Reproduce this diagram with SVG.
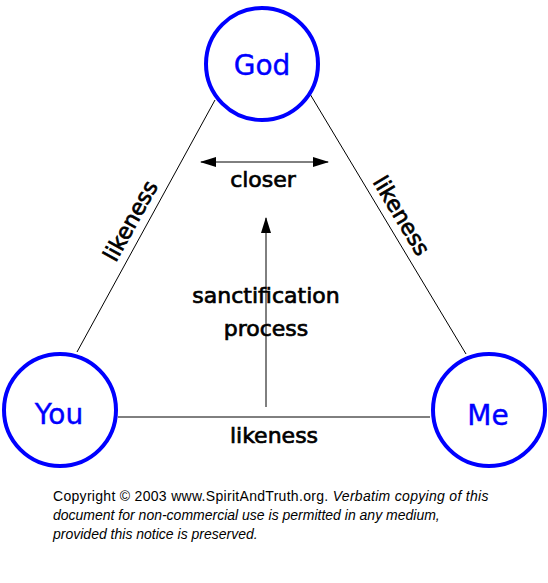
<svg xmlns="http://www.w3.org/2000/svg" width="548" height="583" viewBox="0 0 548 583">
  <defs>
    <marker id="ah" viewBox="0 0 16 10" refX="15" refY="5" markerWidth="16" markerHeight="10" markerUnits="userSpaceOnUse" orient="auto-start-reverse">
      <path d="M0,0 L16,5 L0,10 Z" fill="#000"/>
    </marker>
  </defs>
  <style>
    .node { fill: #fff; stroke: #0000ff; stroke-width: 4; }
    .nlabel { font-family: "DejaVu Sans", sans-serif; font-size: 28px; fill: #0000ff; stroke: #0000ff; stroke-width: 0.4; text-anchor: middle; }
    .lbl { font-family: "DejaVu Sans", sans-serif; font-size: 22px; fill: #000; stroke: #000; stroke-width: 0.7; text-anchor: middle; }
    .edge { stroke: #000; stroke-width: 1; fill: none; }
    .copy { font-family: "Liberation Sans", sans-serif; font-size: 14px; fill: #000; }
  </style>
  <rect width="548" height="583" fill="#fff"/>
  <g id="connectors">
    <line class="edge" x1="215" y1="100" x2="77" y2="352"/>
    <line class="edge" x1="310" y1="94" x2="466" y2="354"/>
    <line class="edge" x1="118" y1="417" x2="430" y2="417"/>
    <line class="edge" x1="201" y1="162" x2="328" y2="162" marker-start="url(#ah)" marker-end="url(#ah)"/>
    <line class="edge" x1="266" y1="407" x2="266" y2="218" marker-end="url(#ah)"/>
  </g>
  <g id="god">
    <circle class="node" cx="262" cy="64" r="56"/>
    <text class="nlabel" x="262" y="75">God</text>
  </g>
  <g id="you">
    <circle class="node" cx="60" cy="410" r="56"/>
    <text class="nlabel" x="59" y="424">You</text>
  </g>
  <g id="me">
    <circle class="node" cx="489" cy="410" r="56"/>
    <text class="nlabel" x="488" y="425">Me</text>
  </g>
  <g id="labels">
    <text class="lbl" transform="translate(131,221) rotate(-61)" y="7">likeness</text>
    <text class="lbl" transform="translate(401,216) rotate(59)" y="7">likeness</text>
    <text class="lbl" x="274" y="443">likeness</text>
    <text class="lbl" x="263" y="187">closer</text>
    <text class="lbl" x="266" y="303" font-size="23">sanctification</text>
    <text class="lbl" x="266" y="336">process</text>
  </g>
  <g id="copyright">
    <text class="copy" x="53" y="501" letter-spacing="0.3">Copyright © 2003 www.SpiritAndTruth.org. <tspan font-style="italic">Verbatim copying of this</tspan></text>
    <text class="copy" x="53" y="520" font-style="italic">document for non-commercial use is permitted in any medium,</text>
    <text class="copy" x="53" y="539" font-style="italic">provided this notice is preserved.</text>
  </g>
</svg>
